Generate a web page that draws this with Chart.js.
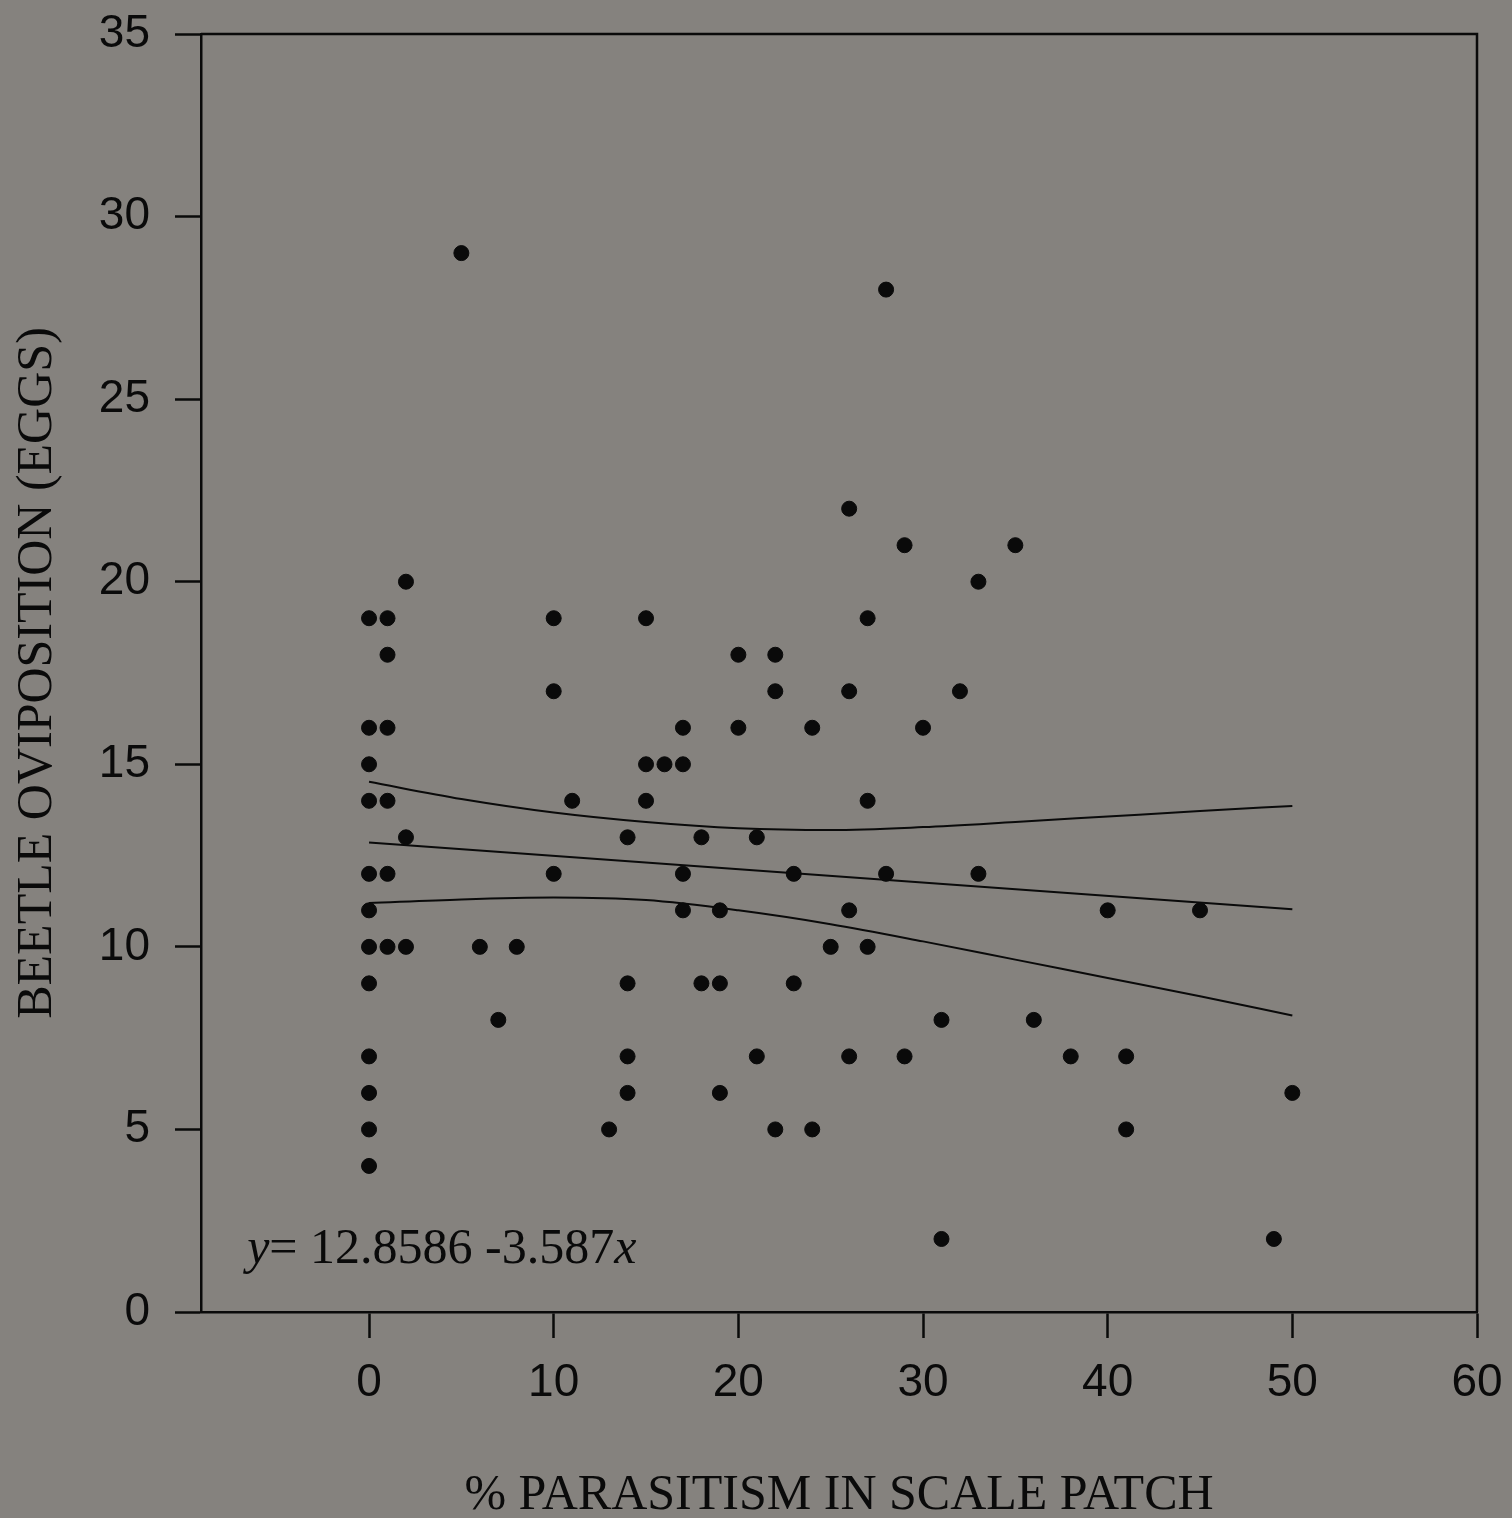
<!DOCTYPE html>
<html>
<head>
<meta charset="utf-8">
<script src="https://cdn.jsdelivr.net/npm/chart.js@4.4.1/dist/chart.umd.min.js"></script>
<style>
  html, body { margin: 0; padding: 0; background: #85827e; }
  #wrap { width: 1512px; height: 1518px; }
</style>
</head>
<body>
<div id="wrap"><canvas id="c" width="1512" height="1518"></canvas></div>
<script>
// ---- Data ----
const parasitism = [
  0,0,0,0,0,0,0,0,0,0,0,0,
  1,1,1,1,1,1,
  2,2,2,
  5,6,7,8,
  10,10,10,
  11,13,
  14,14,14,14,
  15,15,15,16,
  17,17,17,17,
  18,18,
  19,19,19,
  20,20,
  21,21,
  22,22,22,
  23,23,
  24,24,
  25,
  26,26,26,26,
  27,27,27,
  28,28,
  29,29,
  30,
  31,31,
  32,
  33,33,
  35,36,38,40,
  41,41,
  45,49,50
];
const eggs = [
  19,16,15,14,12,11,10,9,7,6,5,4,
  19,18,16,14,12,10,
  20,13,10,
  29,10,8,10,
  19,17,12,
  14,5,
  13,9,7,6,
  19,15,14,15,
  16,15,12,11,
  13,9,
  11,9,6,
  18,16,
  13,7,
  18,17,5,
  12,9,
  16,5,
  10,
  22,17,11,7,
  19,14,10,
  28,12,
  21,7,
  16,
  8,2,
  17,
  20,12,
  21,8,7,11,
  7,5,
  11,2,6
];
// regression line (endpoints) and confidence band curves
const fitX = [0, 50];
const fitY = [12.86, 11.03];
const bandX = [0, 5, 10, 15, 20, 25, 30, 35, 40, 45, 50];
const upperY = [14.52, 14.05, 13.68, 13.42, 13.25, 13.2, 13.28, 13.42, 13.57, 13.72, 13.86];
const lowerY = [11.2, 11.3, 11.35, 11.28, 11.0, 10.62, 10.15, 9.65, 9.15, 8.65, 8.12];
const xTickValues = [0, 10, 20, 30, 40, 50, 60];
const yTickValues = [0, 5, 10, 15, 20, 25, 30, 35];
const xTitle = '% PARASITISM IN SCALE PATCH';
const yTitle = 'BEETLE OVIPOSITION (EGGS)';
const eqParts = [['y', true], ['= 12.8586 -3.587', false], ['x', true]];

// ---- build ----
const pts = parasitism.map((x, i) => ({ x: x, y: eggs[i] }));
const zip = (xs, ys) => xs.map((x, i) => ({ x: x, y: ys[i] }));

const INK = '#0a0a0a';
const BG = '#85827e';
const sansFont = "'Liberation Sans', Arial, sans-serif";
const serifFont = "'Liberation Serif', 'Times New Roman', serif";

function noPad(scale) {
  scale.paddingTop = 0;
  scale.paddingBottom = 0;
  scale.paddingLeft = 0;
  scale.paddingRight = 0;
}

const bgPlugin = {
  id: 'bg',
  beforeDraw(chart) {
    const ctx = chart.ctx;
    ctx.save();
    ctx.fillStyle = BG;
    ctx.fillRect(0, 0, chart.width, chart.height);
    ctx.restore();
  }
};

const framePlugin = {
  id: 'frame',
  afterDraw(chart) {
    const { ctx, chartArea: a } = chart;
    ctx.save();
    ctx.strokeStyle = INK;
    ctx.lineWidth = 2.5;
    ctx.beginPath();
    ctx.moveTo(a.left, a.top);
    ctx.lineTo(a.right, a.top);
    ctx.lineTo(a.right, a.bottom);
    ctx.stroke();
    // equation text
    const xs = chart.scales.x, ys = chart.scales.y;
    let px = xs.getPixelForValue(-6.6);
    const py = ys.getPixelForValue(1.35);
    ctx.fillStyle = INK;
    ctx.textBaseline = 'alphabetic';
    ctx.textAlign = 'left';
    eqParts.forEach(([t, it]) => {
      ctx.font = (it ? 'italic ' : '') + '50px ' + serifFont;
      ctx.fillText(t, px, py);
      px += ctx.measureText(t).width;
    });
    ctx.restore();
  }
};

new Chart(document.getElementById('c'), {
  type: 'scatter',
  data: {
    datasets: [
      {
        data: pts,
        backgroundColor: INK,
        borderColor: INK,
        pointRadius: 7.5,
        pointHoverRadius: 7.5,
        order: 1
      },
      {
        type: 'line',
        data: zip(fitX, fitY),
        borderColor: INK,
        borderWidth: 2,
        pointRadius: 0,
        fill: false,
        order: 2
      },
      {
        type: 'line',
        data: zip(bandX, upperY),
        borderColor: INK,
        borderWidth: 2,
        pointRadius: 0,
        tension: 0.4,
        cubicInterpolationMode: 'monotone',
        fill: false,
        order: 2
      },
      {
        type: 'line',
        data: zip(bandX, lowerY),
        borderColor: INK,
        borderWidth: 2,
        pointRadius: 0,
        tension: 0.4,
        cubicInterpolationMode: 'monotone',
        fill: false,
        order: 2
      }
    ]
  },
  options: {
    responsive: false,
    animation: false,
    events: [],
    layout: { padding: { top: 34, right: 35, bottom: 0, left: 0 } },
    plugins: {
      legend: { display: false },
      tooltip: { enabled: false },
      title: { display: false }
    },
    scales: {
      x: {
        type: 'linear',
        min: -9.1,
        max: 60,
        afterBuildTicks(scale) { scale.ticks = xTickValues.map(v => ({ value: v })); },
        afterFit(scale) { scale.height = 206; noPad(scale); },
        grid: {
          display: true,
          drawOnChartArea: false,
          drawTicks: true,
          tickLength: 26,
          tickWidth: 2.5,
          tickColor: INK,
          color: INK
        },
        border: { display: true, color: INK, width: 2.5 },
        ticks: {
          color: INK,
          font: { family: sansFont, size: 46 },
          padding: 18,
          maxRotation: 0,
          autoSkip: false
        },
        title: {
          display: true,
          text: xTitle,
          color: INK,
          font: { family: serifFont, size: 50, lineHeight: 1 },
          padding: { top: 0, bottom: -3 }
        }
      },
      y: {
        type: 'linear',
        min: 0,
        max: 35,
        afterBuildTicks(scale) { scale.ticks = yTickValues.map(v => ({ value: v })); },
        afterFit(scale) { scale.width = 201; noPad(scale); },
        grid: {
          display: true,
          drawOnChartArea: false,
          drawTicks: true,
          tickLength: 26,
          tickWidth: 2.5,
          tickColor: INK,
          color: INK
        },
        border: { display: true, color: INK, width: 2.5 },
        ticks: {
          color: INK,
          font: { family: sansFont, size: 46 },
          padding: 25,
          autoSkip: false
        },
        title: {
          display: true,
          text: yTitle,
          color: INK,
          font: { family: serifFont, size: 50, lineHeight: 1 },
          padding: { top: 13, bottom: 0 }
        }
      }
    }
  },
  plugins: [bgPlugin, framePlugin]
});
</script>
</body>
</html>
